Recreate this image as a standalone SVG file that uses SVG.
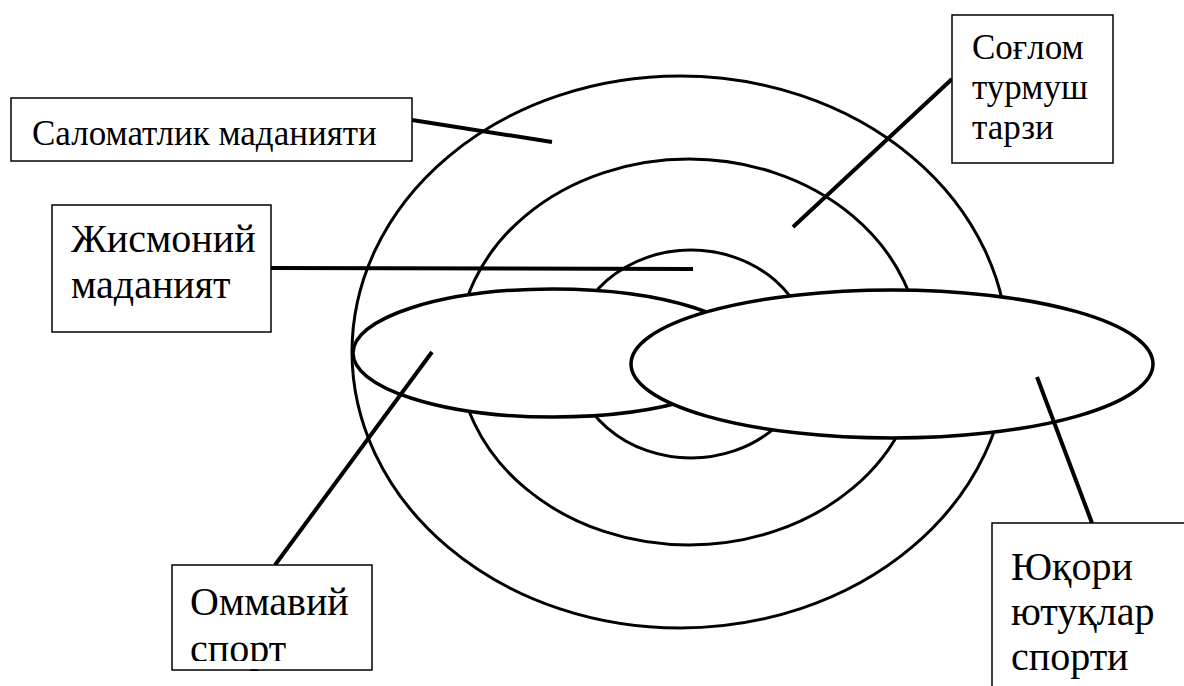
<svg xmlns="http://www.w3.org/2000/svg" width="1184" height="686" viewBox="0 0 1184 686">
<style>
.ring{fill:none;stroke:#000;stroke-width:3}
.blob{fill:#fff;stroke:#000;stroke-width:3.5}
.conn{stroke:#000;stroke-width:4;stroke-linecap:butt}
.box{fill:#fff;stroke:#000;stroke-width:1.5}
.lbl{fill:#000;font-family:"Liberation Serif"}
.mask{fill:#fff;stroke:none}
</style>
<rect width="1184" height="686" fill="#fff"/>
<g id="rings">
<ellipse class="ring" cx="680" cy="352" rx="328" ry="276"/>
<ellipse class="ring" cx="689" cy="352" rx="231" ry="193"/>
<ellipse class="ring" cx="691" cy="354" rx="119" ry="104"/>
</g>
<g id="mass-sport-ellipse"><ellipse class="blob" cx="553" cy="353" rx="200" ry="64"/></g>
<g id="elite-sport-ellipse"><ellipse class="blob" cx="892" cy="364" rx="261" ry="74"/></g>
<g id="connectors">
<line class="conn" x1="412" y1="120" x2="552" y2="142"/>
<line class="conn" x1="952" y1="79" x2="793" y2="227"/>
<line class="conn" x1="271" y1="268" x2="693" y2="269"/>
<line class="conn" x1="432" y1="352" x2="275" y2="565"/>
<line class="conn" x1="1037" y1="377" x2="1092" y2="523"/>
</g>
<g id="node-salomatlik">
<rect class="box" x="11" y="98" width="401" height="63"/>
<text class="lbl" x="32" y="145" font-family="Liberation Serif" font-size="35">Саломатлик маданияти</text>
</g>
<g id="node-soglom">
<rect class="box" x="952" y="15" width="161" height="148"/>
<text class="lbl" x="972" y="59" font-family="Liberation Serif" font-size="35">Соғлом</text>
<text class="lbl" x="972" y="99" font-family="Liberation Serif" font-size="35">турмуш</text>
<text class="lbl" x="972" y="139" font-family="Liberation Serif" font-size="35">тарзи</text>
</g>
<g id="node-jismoniy">
<rect class="box" x="52" y="205" width="219" height="127"/>
<text class="lbl" x="71" y="252" font-family="Liberation Serif" font-size="40">Жисмоний</text>
<text class="lbl" x="71" y="298" font-family="Liberation Serif" font-size="40">маданият</text>
</g>
<g id="node-ommaviy">
<rect class="box" x="172" y="565" width="200" height="105"/>
<text class="lbl" x="190" y="615" font-family="Liberation Serif" font-size="40">Оммавий</text>
<text class="lbl" x="190" y="662" font-family="Liberation Serif" font-size="40">спорт</text>
<rect class="mask" x="174" y="661" width="196" height="8"/>
</g>
<g id="node-yuqori">
<rect class="box" x="992" y="523" width="200" height="170"/>
<text class="lbl" x="1011" y="580" font-family="Liberation Serif" font-size="40">Юқори</text>
<text class="lbl" x="1011" y="625" font-family="Liberation Serif" font-size="40">ютуқлар</text>
<text class="lbl" x="1011" y="670" font-family="Liberation Serif" font-size="40">спорти</text>
</g>
</svg>
